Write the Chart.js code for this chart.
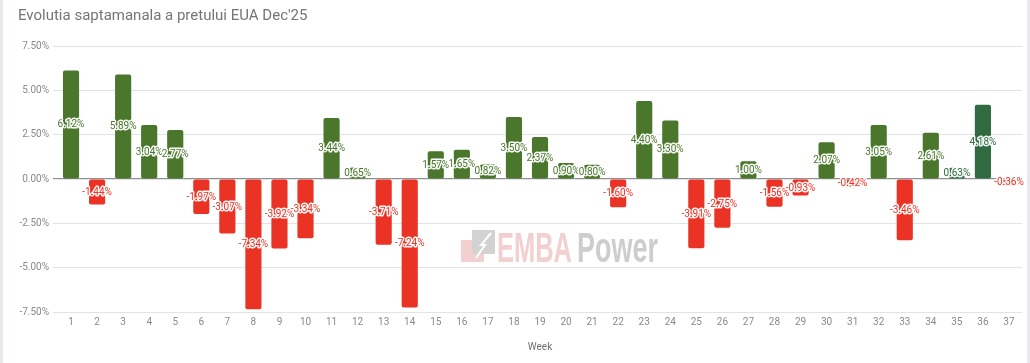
<!DOCTYPE html>
<html>
<head>
<meta charset="utf-8">
<script src="https://cdn.jsdelivr.net/npm/chart.js@4.4.1/dist/chart.umd.min.js"></script>
<style>
html,body{margin:0;padding:0;background:#fff;}
#wrap{position:relative;width:1030px;height:363px;overflow:hidden;}
#l{position:absolute;left:0;top:0;width:3px;height:363px;background:#e8e9ee;}
#r{position:absolute;right:0;top:0;width:3px;height:363px;background:#e8e9ee;}
canvas{position:absolute;left:0;top:0;}
</style>
</head>
<body>
<div id="wrap"><canvas id="c" width="1030" height="363"></canvas><div id="l"></div><div id="r"></div></div>
<script>
const weeks = ['1','2','3','4','5','6','7','8','9','10','11','12','13','14','15','16','17','18','19','20','21','22','23','24','25','26','27','28','29','30','31','32','33','34','35','36','37'];
const changes = [6.12,-1.44,5.89,3.04,2.77,-1.97,-3.07,-7.34,-3.92,-3.34,3.44,0.65,-3.71,-7.24,1.57,1.65,0.82,3.50,2.37,0.90,0.80,-1.60,4.40,3.30,-3.91,-2.75,1.00,-1.56,-0.93,2.07,-0.42,3.05,-3.46,2.61,0.63,4.18,-0.36];
const yTicks = [-7.5,-5,-2.5,0,2.5,5,7.5];
const darkWeeks = ['35','36'];

const GREEN = '#4a772b', DARK = '#2f6a40', RED = '#ea3325';
const colors = changes.map((v,i)=> v < 0 ? RED : (darkWeeks.includes(weeks[i]) ? DARK : GREEN));

const labelPlugin = {
  id:'barLabels',
  afterDatasetsDraw(chart){
    const ctx = chart.ctx;
    const meta = chart.getDatasetMeta(0);
    ctx.save();
    ctx.font = '10px Roboto, "Liberation Sans", sans-serif';
    ctx.textAlign = 'center';
    ctx.textBaseline = 'middle';
    ctx.lineJoin = 'round';
    meta.data.forEach((bar,i)=>{
      const v = changes[i];
      const txt = v.toFixed(2) + '%';
      const y = (bar.y + bar.base)/2;
      ctx.strokeStyle = 'rgba(255,255,255,0.95)';
      ctx.lineWidth = 3;
      ctx.strokeText(txt, bar.x, y+0.5);
      ctx.fillStyle = colors[i];
      ctx.fillText(txt, bar.x, y+0.5);
    });
    ctx.restore();
  }
};

function fitText(ctx, txt, x0, x1, baseline){
  const w = ctx.measureText(txt).width;
  ctx.save();
  ctx.translate(x0, baseline);
  ctx.scale((x1-x0)/w, 1);
  ctx.fillText(txt, 0, 0);
  ctx.restore();
}

const watermark = {
  id:'watermark',
  beforeDatasetsDraw(chart){
    const ctx = chart.ctx;
    ctx.save();
    // icon
    ctx.fillStyle = '#f2d0d0';
    ctx.beginPath(); ctx.moveTo(461,240); ctx.lineTo(484,240); ctx.lineTo(484,262); ctx.lineTo(461,262); ctx.closePath(); ctx.fill();
    ctx.fillStyle = '#d2d2d2';
    ctx.fillRect(472,230,23,24);
    ctx.strokeStyle = '#ffffff';
    ctx.lineWidth = 2;
    ctx.beginPath(); ctx.moveTo(476,258); ctx.lineTo(485,245); ctx.lineTo(481,245); ctx.lineTo(491,233); ctx.stroke();
    ctx.font = 'bold 42px "Liberation Sans", sans-serif';
    ctx.textBaseline = 'alphabetic';
    ctx.textAlign = 'left';
    ctx.fillStyle = '#f2d0d0';
    fitText(ctx, 'EMBA', 497, 572, 262);
    ctx.fillStyle = '#cdcdcd';
    fitText(ctx, 'Power', 577, 658, 262);
    ctx.restore();
  }
};

new Chart(document.getElementById('c'), {
  type:'bar',
  data:{
    labels: weeks,
    datasets:[{
      data: changes,
      backgroundColor: colors,
      borderRadius: 2,
      borderSkipped: false,
      categoryPercentage: 1,
      barPercentage: 0.62
    }]
  },
  options:{
    responsive:false,
    animation:false,
    devicePixelRatio:1,
    layout:{padding:{left:18,right:8,top:5,bottom:0}},
    plugins:{
      legend:{display:false},
      tooltip:{enabled:false},
      title:{
        display:true,
        text:"Evolutia saptamanala a pretului EUA Dec'25",
        align:'start',
        color:'#757575',
        font:{family:'Roboto, "Liberation Sans", sans-serif', size:15, weight:'normal', lineHeight:1.2},
        padding:{top:2,bottom:21}
      }
    },
    scales:{
      x:{
        grid:{display:false, drawTicks:false},
        border:{display:false},
        ticks:{color:'#8a8a8a', font:{family:'Roboto, "Liberation Sans", sans-serif', size:10}, padding:4, maxRotation:0, autoSkip:false},
        title:{display:true, text:'Week', color:'#6f6f6f', font:{family:'Roboto, "Liberation Sans", sans-serif', size:10, lineHeight:1.2}, padding:{top:0,bottom:10}},
        afterFit(s){ s.height = 51; }
      },
      y:{
        min:-7.5, max:7.5,
        afterBuildTicks(s){ s.ticks = yTicks.map(v=>({value:v})); },
        grid:{
          color:(c)=> c.tick && c.tick.value===0 ? '#8f8f8f' : '#e3e3e3',
          lineWidth:(c)=> c.tick && c.tick.value===0 ? 1.2 : 1,
          tickLength:5,
          drawTicks:true
        },
        border:{display:false},
        ticks:{color:'#8a8a8a', font:{family:'Roboto, "Liberation Sans", sans-serif', size:10}, padding:4,
          callback:(v)=> Number(v).toFixed(2)+'%'},
        afterFit(s){ s.width = 40; }
      }
    }
  },
  plugins:[watermark, labelPlugin]
});
</script>
</body>
</html>
